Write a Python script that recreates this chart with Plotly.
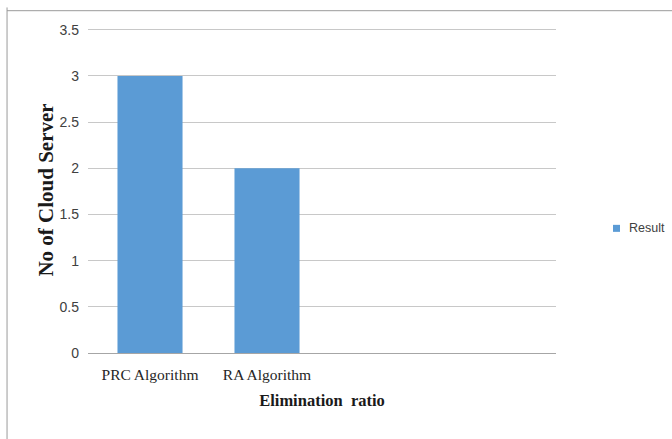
import plotly.graph_objects as go

# Chart data
categories = ["PRC Algorithm", "RA Algorithm"]
result_values = [3, 2]
series_name = "Result"
y_tick_vals = [0, 0.5, 1, 1.5, 2, 2.5, 3, 3.5]
y_tick_text = ["0", "0.5", "1", "1.5", "2", "2.5", "3", "3.5"]

BAR_COLOR = "#5B9BD5"

fig = go.Figure()
fig.add_trace(go.Bar(
    x=categories,
    y=result_values,
    name=series_name,
    marker=dict(color=BAR_COLOR, line=dict(width=0)),
    width=0.556,
    showlegend=False,
))

# plot area: top headroom so the 3.5 gridline is drawn inside the range
fig.update_layout(
    width=672,
    height=439,
    margin=dict(l=88, r=116, t=27, b=86, autoexpand=False),
    paper_bgcolor="white",
    plot_bgcolor="white",
    showlegend=False,
    xaxis=dict(
        type="category",
        range=[-0.53, 3.47],
        showgrid=False,
        showline=True,
        linecolor="#a6a6a6",
        linewidth=1,
        ticks="",
        ticklabelstandoff=7,
        tickfont=dict(family="Liberation Serif, Times New Roman", size=15.5, color="#262626"),
        title=dict(
            text="<b>Elimination  ratio</b>",
            font=dict(family="Liberation Serif, Times New Roman", size=16.5, color="#1a1a1a"),
            standoff=12,
        ),
    ),
    yaxis=dict(
        range=[0, 3.53],
        tickvals=y_tick_vals,
        ticktext=y_tick_text,
        showgrid=True,
        gridcolor="#c8c8c8",
        gridwidth=1,
        zeroline=False,
        showline=False,
        ticks="",
        ticklabelstandoff=8,
        tickfont=dict(family="Liberation Sans, Arial", size=14, color="#404040"),
        title=dict(
            text="<b>No of Cloud Server</b>",
            font=dict(family="Liberation Serif, Times New Roman", size=21, color="#1a1a1a"),
            standoff=0,
        ),
    ),
    shapes=[
        # outer chart frame (left and top edges visible)
        dict(type="line", xref="paper", yref="paper",
             x0=-0.173, y0=-0.3, x1=-0.173, y1=1.06,
             line=dict(color="#9a9a9a", width=1)),
        dict(type="line", xref="paper", yref="paper",
             x0=-0.173, y0=1.05, x1=1.3, y1=1.05,
             line=dict(color="#9a9a9a", width=1)),
        # legend key square
        dict(type="rect", xref="paper", yref="paper",
             x0=1.1218, x1=1.1368, y0=0.3716, y1=0.3931,
             fillcolor=BAR_COLOR, line=dict(width=0)),
    ],
    annotations=[
        dict(text=series_name, xref="paper", yref="paper",
             x=1.1517, y=0.3823, xanchor="left", yanchor="middle",
             showarrow=False,
             font=dict(family="Liberation Sans, Arial", size=12.5, color="#404040")),
    ],
)

fig.write_html("out.html")
